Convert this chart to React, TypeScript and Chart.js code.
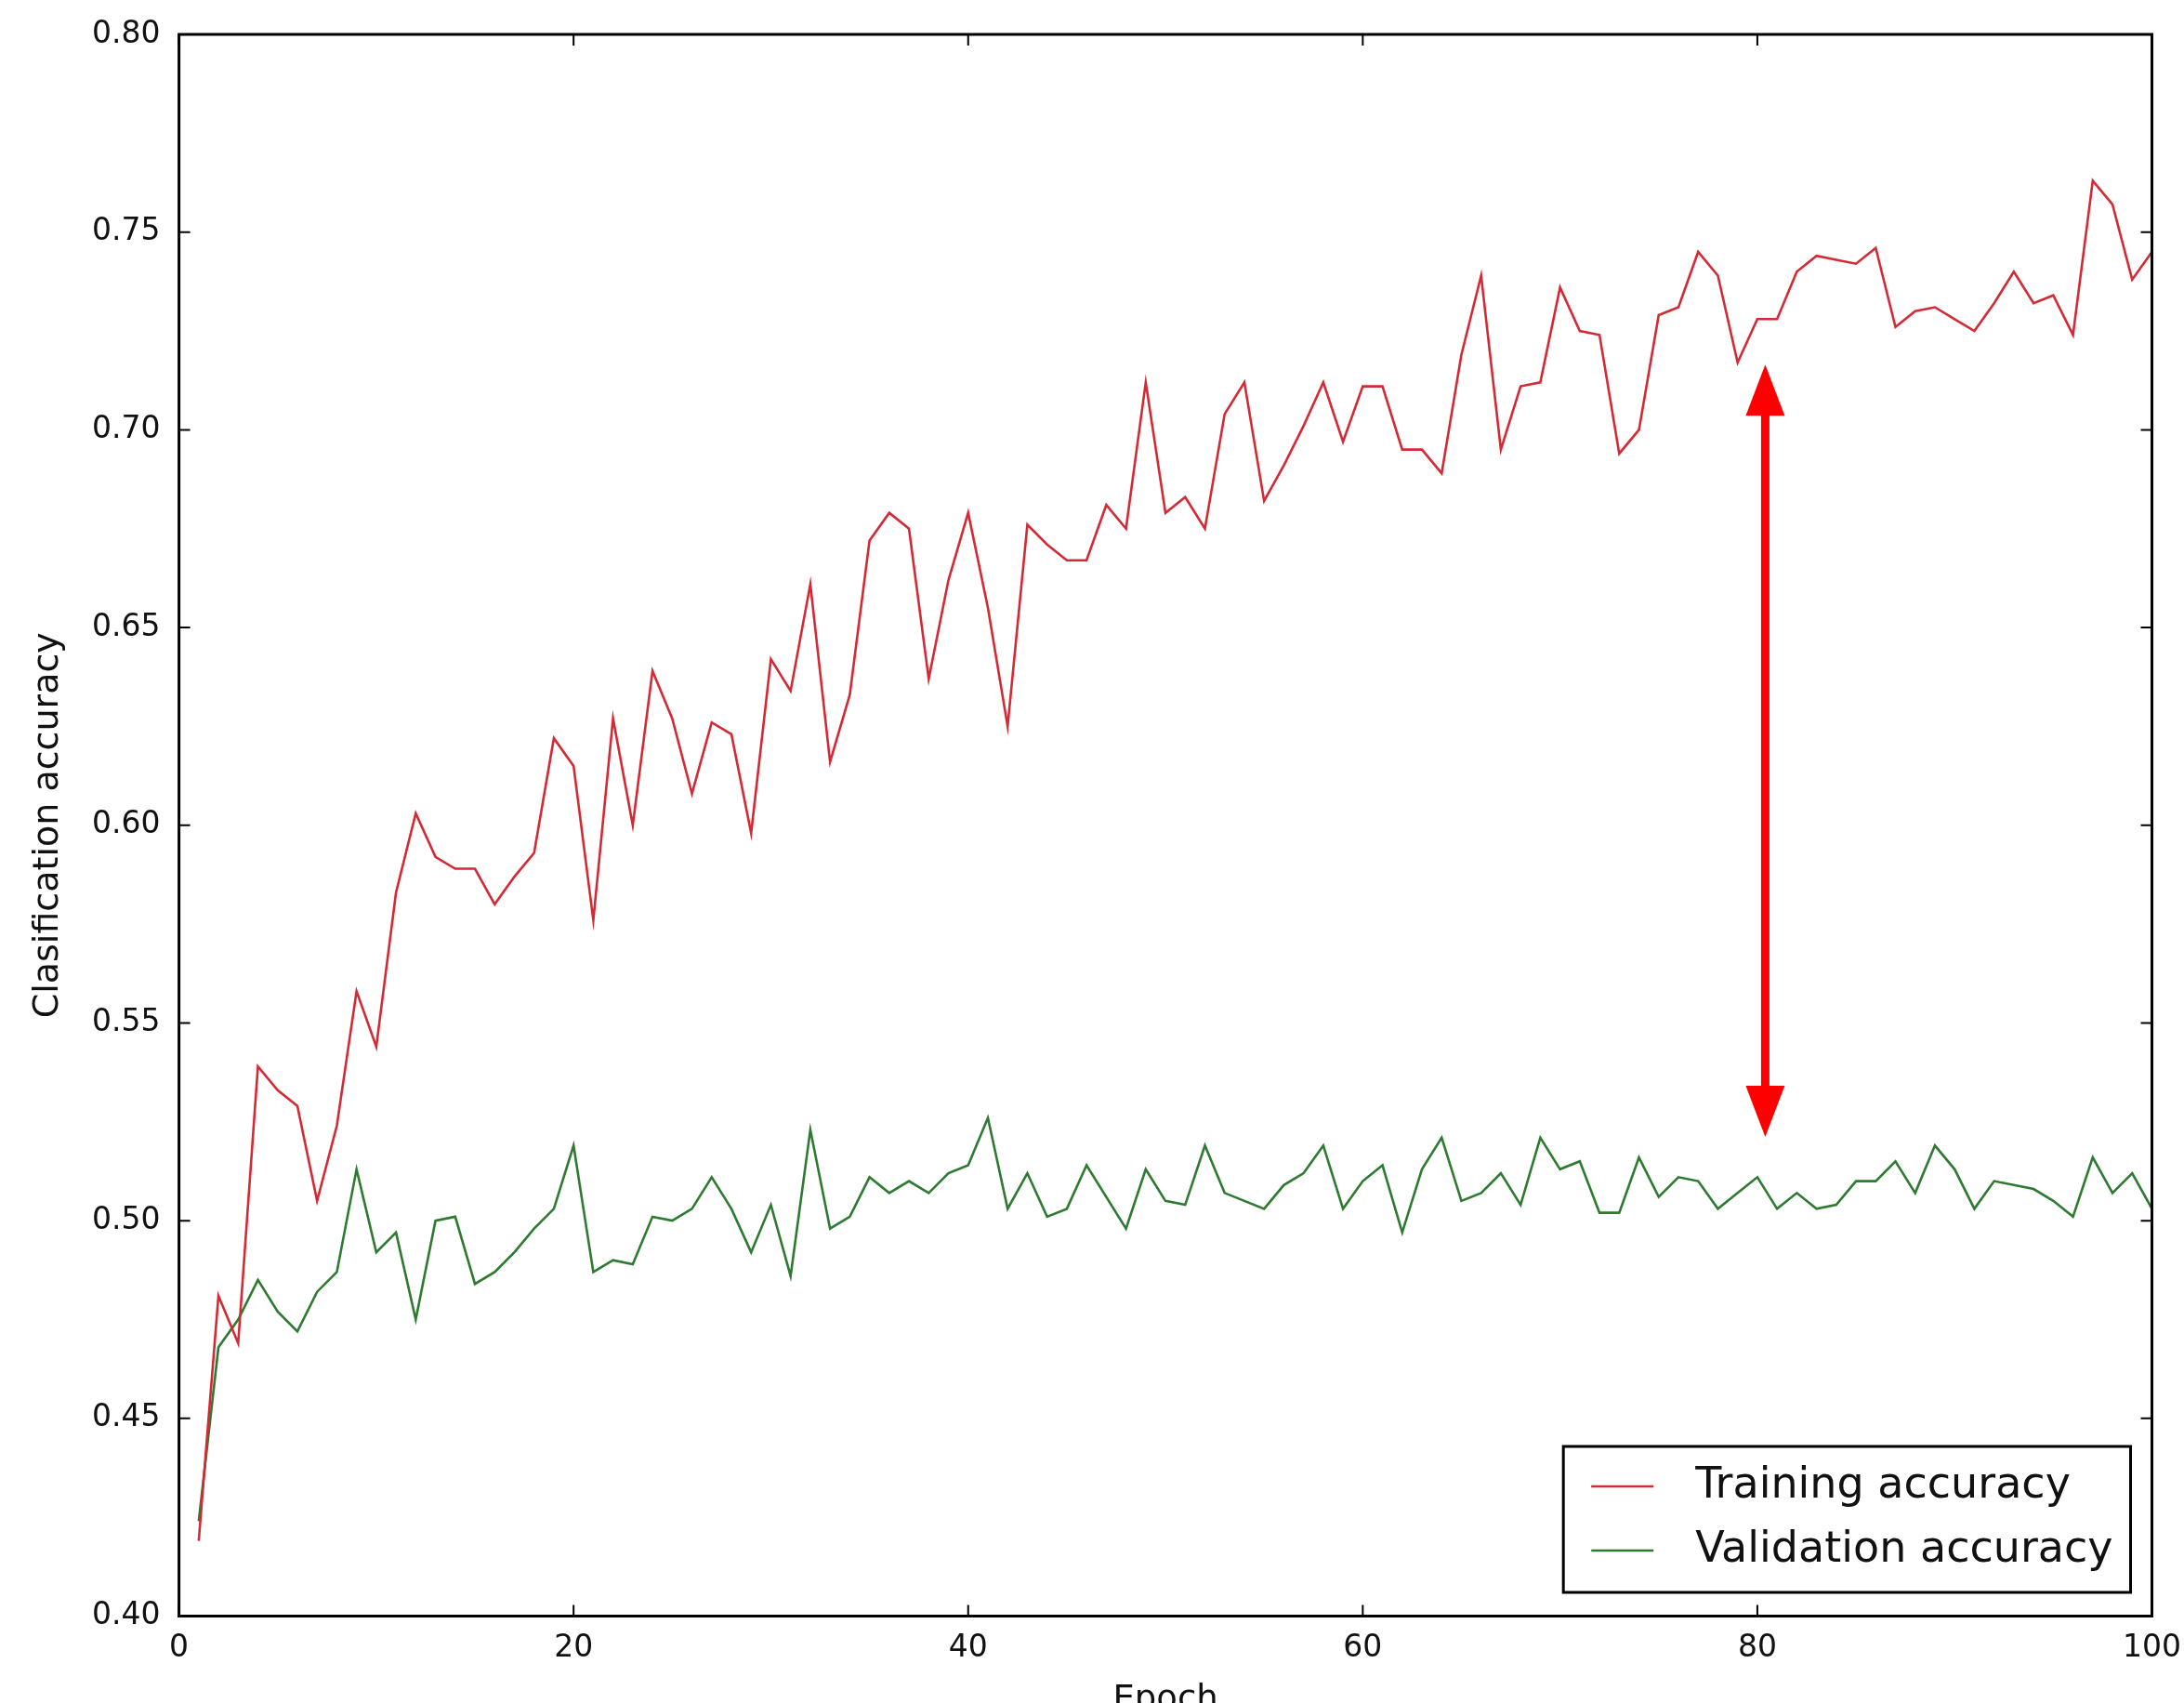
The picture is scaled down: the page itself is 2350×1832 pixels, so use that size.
import React, { useEffect, useRef } from "react";
import { Chart, registerables } from "chart.js";

Chart.register(...registerables);

// ---------- data ----------
const epochs = [
  1, 2, 3, 4, 5, 6, 7, 8, 9, 10, 11, 12, 13, 14, 15, 16, 17, 18, 19, 20,
  21, 22, 23, 24, 25, 26, 27, 28, 29, 30, 31, 32, 33, 34, 35, 36, 37, 38, 39, 40,
  41, 42, 43, 44, 45, 46, 47, 48, 49, 50, 51, 52, 53, 54, 55, 56, 57, 58, 59, 60,
  61, 62, 63, 64, 65, 66, 67, 68, 69, 70, 71, 72, 73, 74, 75, 76, 77, 78, 79, 80,
  81, 82, 83, 84, 85, 86, 87, 88, 89, 90, 91, 92, 93, 94, 95, 96, 97, 98, 99, 100,
];

const trainingAccuracy = [
  0.419, 0.481, 0.469, 0.539, 0.533, 0.529, 0.505, 0.524, 0.558, 0.544,
  0.583, 0.603, 0.592, 0.589, 0.589, 0.580, 0.587, 0.593, 0.622, 0.615,
  0.576, 0.627, 0.600, 0.639, 0.627, 0.608, 0.626, 0.623, 0.598, 0.642,
  0.634, 0.661, 0.616, 0.633, 0.672, 0.679, 0.675, 0.637, 0.662, 0.679,
  0.655, 0.625, 0.676, 0.671, 0.667, 0.667, 0.681, 0.675, 0.712, 0.679,
  0.683, 0.675, 0.704, 0.712, 0.682, 0.691, 0.701, 0.712, 0.697, 0.711,
  0.711, 0.695, 0.695, 0.689, 0.719, 0.739, 0.695, 0.711, 0.712, 0.736,
  0.725, 0.724, 0.694, 0.700, 0.729, 0.731, 0.745, 0.739, 0.717, 0.728,
  0.728, 0.740, 0.744, 0.743, 0.742, 0.746, 0.726, 0.730, 0.731, 0.728,
  0.725, 0.732, 0.740, 0.732, 0.734, 0.724, 0.763, 0.757, 0.738, 0.745,
];

const validationAccuracy = [
  0.424, 0.468, 0.475, 0.485, 0.477, 0.472, 0.482, 0.487, 0.513, 0.492,
  0.497, 0.475, 0.500, 0.501, 0.484, 0.487, 0.492, 0.498, 0.503, 0.519,
  0.487, 0.490, 0.489, 0.501, 0.500, 0.503, 0.511, 0.503, 0.492, 0.504,
  0.486, 0.523, 0.498, 0.501, 0.511, 0.507, 0.510, 0.507, 0.512, 0.514,
  0.526, 0.503, 0.512, 0.501, 0.503, 0.514, 0.506, 0.498, 0.513, 0.505,
  0.504, 0.519, 0.507, 0.505, 0.503, 0.509, 0.512, 0.519, 0.503, 0.510,
  0.514, 0.497, 0.513, 0.521, 0.505, 0.507, 0.512, 0.504, 0.521, 0.513,
  0.515, 0.502, 0.502, 0.516, 0.506, 0.511, 0.510, 0.503, 0.507, 0.511,
  0.503, 0.507, 0.503, 0.504, 0.510, 0.510, 0.515, 0.507, 0.519, 0.513,
  0.503, 0.510, 0.509, 0.508, 0.505, 0.501, 0.516, 0.507, 0.512, 0.503,
];

const seriesLabels = ["Training accuracy", "Validation accuracy"];
const xTickValues = [0, 20, 40, 60, 80, 100];
const yTickValues = [0.4, 0.45, 0.5, 0.55, 0.6, 0.65, 0.7, 0.75, 0.8];
const xAxisTitle = "Epoch";
const yAxisTitle = "Clasification accuracy";

// gap annotation (double arrow) in data units
const arrowEpoch = 80.4;
const arrowTopValue = 0.7165;
const arrowBottomValue = 0.5212;

// ---------- styles ----------
const FONT = '"DejaVu Sans", "Liberation Sans", sans-serif';
const RED = "#d42a35";
const GREEN = "#2d7a30";
const TEXT = "#111111";

const decorPlugin = {
  id: "mplDecor",
  afterDatasetsDraw(chart: any) {
    const { ctx } = chart;
    const xs = chart.scales.x;
    const ys = chart.scales.y;
    // double-headed arrow
    const x = xs.getPixelForValue(arrowEpoch);
    const yTop = ys.getPixelForValue(arrowTopValue);
    const yBot = ys.getPixelForValue(arrowBottomValue);
    const headLen = 55;
    const headHalf = 21;
    const shaft = 9;
    ctx.save();
    ctx.fillStyle = "#ff0000";
    ctx.fillRect(x - shaft / 2, yTop + headLen - 2, shaft, yBot - yTop - 2 * headLen + 4);
    ctx.beginPath();
    ctx.moveTo(x, yTop);
    ctx.lineTo(x - headHalf, yTop + headLen);
    ctx.lineTo(x + headHalf, yTop + headLen);
    ctx.closePath();
    ctx.fill();
    ctx.beginPath();
    ctx.moveTo(x, yBot);
    ctx.lineTo(x - headHalf, yBot - headLen);
    ctx.lineTo(x + headHalf, yBot - headLen);
    ctx.closePath();
    ctx.fill();
    ctx.restore();
  },
  afterDraw(chart: any) {
    const { ctx, chartArea: ca } = chart;
    const xs = chart.scales.x;
    const ys = chart.scales.y;
    ctx.save();
    // inward ticks on all four sides
    const tickLen = 12;
    ctx.strokeStyle = "#000";
    ctx.lineWidth = 2;
    ctx.beginPath();
    xs.ticks.forEach((t: any) => {
      const px = xs.getPixelForValue(t.value);
      ctx.moveTo(px, ca.bottom);
      ctx.lineTo(px, ca.bottom - tickLen);
      ctx.moveTo(px, ca.top);
      ctx.lineTo(px, ca.top + tickLen);
    });
    ys.ticks.forEach((t: any) => {
      const py = ys.getPixelForValue(t.value);
      ctx.moveTo(ca.left, py);
      ctx.lineTo(ca.left + tickLen, py);
      ctx.moveTo(ca.right, py);
      ctx.lineTo(ca.right - tickLen, py);
    });
    ctx.stroke();
    // frame
    ctx.lineWidth = 3;
    ctx.strokeRect(ca.left, ca.top, ca.right - ca.left, ca.bottom - ca.top);

    // legend (lower right, inside axes)
    const datasets = chart.data.datasets;
    ctx.font = `46px ${FONT}`;
    const maxW = Math.max(...datasets.map((d: any) => ctx.measureText(d.label).width));
    const boxW = 30 + 67 + 45 + maxW + 19;
    const boxH = 157;
    const boxRight = ca.right - 23;
    const boxBottom = ca.bottom - 25.5;
    const boxLeft = boxRight - boxW;
    const boxTop = boxBottom - boxH;
    ctx.fillStyle = "#ffffff";
    ctx.fillRect(boxLeft, boxTop, boxW, boxH);
    ctx.lineWidth = 3;
    ctx.strokeStyle = "#000";
    ctx.strokeRect(boxLeft, boxTop, boxW, boxH);
    const rowY = [boxTop + 43, boxTop + 112];
    datasets.forEach((d: any, i: number) => {
      ctx.strokeStyle = d.borderColor;
      ctx.lineWidth = 2.6;
      ctx.beginPath();
      ctx.moveTo(boxLeft + 30, rowY[i]);
      ctx.lineTo(boxLeft + 97, rowY[i]);
      ctx.stroke();
      ctx.fillStyle = TEXT;
      ctx.textBaseline = "middle";
      ctx.textAlign = "left";
      ctx.fillText(d.label, boxLeft + 142, rowY[i]);
    });
    ctx.restore();
  },
};

export default function App() {
  const canvasRef = useRef<HTMLCanvasElement | null>(null);

  useEffect(() => {
    if (!canvasRef.current) return;
    const chart = new Chart(canvasRef.current, {
      type: "line",
      data: {
        datasets: [
          {
            label: seriesLabels[0],
            data: epochs.map((e, i) => ({ x: e, y: trainingAccuracy[i] })),
            borderColor: RED,
            backgroundColor: RED,
            borderWidth: 2.6,
            pointRadius: 0,
            tension: 0,
          },
          {
            label: seriesLabels[1],
            data: epochs.map((e, i) => ({ x: e, y: validationAccuracy[i] })),
            borderColor: GREEN,
            backgroundColor: GREEN,
            borderWidth: 2.6,
            pointRadius: 0,
            tension: 0,
          },
        ],
      },
      options: {
        responsive: false,
        animation: false,
        devicePixelRatio: 1,
        layout: { padding: { left: 0, top: 37, right: 34.5, bottom: 0 } },
        plugins: {
          legend: { display: false },
          tooltip: { enabled: false },
        },
        scales: {
          x: {
            type: "linear",
            min: 0,
            max: 100,
            afterBuildTicks: (s: any) => {
              s.ticks = xTickValues.map((v) => ({ value: v }));
            },
            afterFit: (s: any) => {
              s.height = 93.5;
              s.paddingLeft = 0;
              s.paddingRight = 0;
            },
            grid: { display: false, drawTicks: false, tickLength: 0 },
            border: { display: false },
            ticks: {
              padding: 15,
              color: TEXT,
              font: { family: FONT, size: 33 },
              callback: (v: any) => String(v),
              maxRotation: 0,
            },
            title: {
              display: true,
              text: xAxisTitle,
              color: TEXT,
              font: { family: FONT, size: 37 },
              padding: { top: 0, bottom: -20 },
            },
          },
          y: {
            type: "linear",
            min: 0.4,
            max: 0.8,
            afterBuildTicks: (s: any) => {
              s.ticks = yTickValues.map((v) => ({ value: v }));
            },
            afterFit: (s: any) => {
              s.width = 192.6;
              s.paddingTop = 0;
              s.paddingBottom = 0;
            },
            grid: { display: false, drawTicks: false, tickLength: 0 },
            border: { display: false },
            ticks: {
              padding: 20,
              color: TEXT,
              font: { family: FONT, size: 33 },
              callback: (v: any) => Number(v).toFixed(2),
            },
            title: {
              display: true,
              text: yAxisTitle,
              color: TEXT,
              font: { family: FONT, size: 38 },
              padding: { top: 29, bottom: 0 },
            },
          },
        },
      },
      plugins: [decorPlugin],
    } as any);
    return () => chart.destroy();
  }, []);

  return (
    <div
      style={{
        position: "fixed",
        left: 0,
        top: 0,
        width: 2350,
        height: 1832,
        background: "#ffffff",
        overflow: "hidden",
      }}
    >
      <canvas ref={canvasRef} width={2350} height={1832} style={{ display: "block" }} />
    </div>
  );
}
